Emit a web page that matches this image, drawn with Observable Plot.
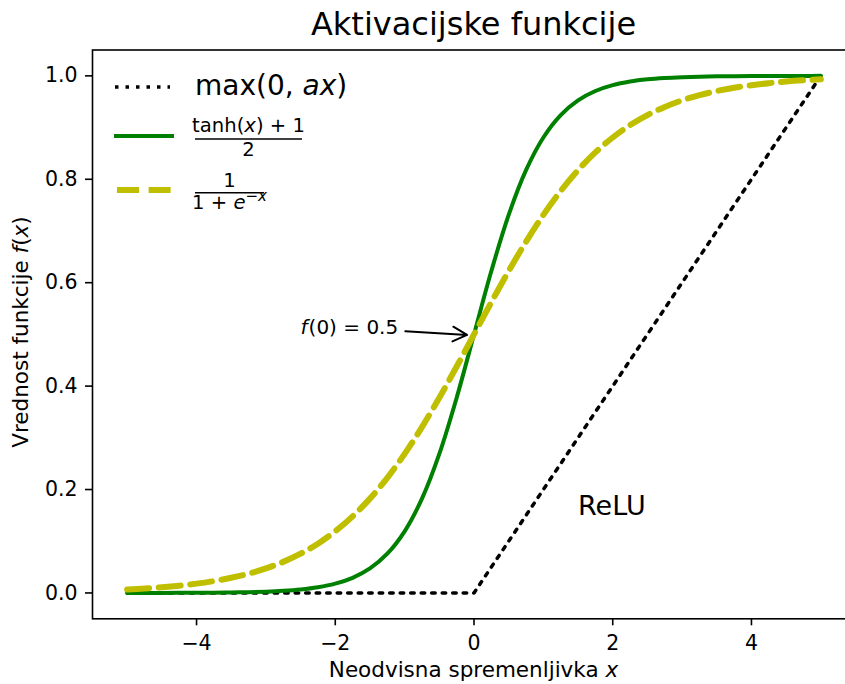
<!DOCTYPE html>
<html>
<head>
<meta charset="utf-8">
<script src="https://cdn.jsdelivr.net/npm/d3@7"></script>
<script src="https://cdn.jsdelivr.net/npm/@observablehq/plot@0.6"></script>
<style>
  html, body { margin: 0; padding: 0; background: white; overflow: hidden; }
  #wrap { position: relative; width: 845px; height: 684px; overflow: hidden; }
  #wrap svg { max-width: none; }
</style>
</head>
<body>
<div id="wrap"></div>
<script>
// ---- data ----
const xs = [-5, -4.75, -4.5, -4.25, -4, -3.75, -3.5, -3.25, -3, -2.75, -2.5, -2.25, -2, -1.75, -1.5, -1.25, -1, -0.75, -0.5, -0.25,
  0, 0.25, 0.5, 0.75, 1, 1.25, 1.5, 1.75, 2, 2.25, 2.5, 2.75, 3, 3.25, 3.5, 3.75, 4, 4.25, 4.5, 4.75, 5];
const tanhHalfValues = [0.0000, 0.0001, 0.0001, 0.0002, 0.0003, 0.0006, 0.0009, 0.0015, 0.0025, 0.0041, 0.0067, 0.0110, 0.0180, 0.0293, 0.0474, 0.0759, 0.1192, 0.1824, 0.2689, 0.3775,
  0.5000, 0.6225, 0.7311, 0.8176, 0.8808, 0.9241, 0.9526, 0.9707, 0.9820, 0.9890, 0.9933, 0.9959, 0.9975, 0.9985, 0.9991, 0.9994, 0.9997, 0.9998, 0.9999, 0.9999, 1.0000];
const sigmoidValues = [0.0067, 0.0086, 0.0110, 0.0141, 0.0180, 0.0230, 0.0293, 0.0373, 0.0474, 0.0601, 0.0759, 0.0953, 0.1192, 0.1480, 0.1824, 0.2227, 0.2689, 0.3208, 0.3775, 0.4378,
  0.5000, 0.5622, 0.6225, 0.6792, 0.7311, 0.7773, 0.8176, 0.8520, 0.8808, 0.9047, 0.9241, 0.9399, 0.9526, 0.9627, 0.9707, 0.9770, 0.9820, 0.9859, 0.9890, 0.9914, 0.9933];
const reluX = [-5, 0, 5];
const reluY = [0, 0, 1];
const xTicks = [-4, -2, 0, 2, 4];
const yTicks = [0, 0.2, 0.4, 0.6, 0.8, 1.0];
const annotPoint = [-2.5, 0.5];
const annotRest = "(0) = 0.5";
const arrowStart = [-0.99, 0.506];
const arrowEnd = [-0.1, 0.499];
const reluLabelPos = [1.5, 0.15];
const reluLabel = "ReLU";
const titleText = "Aktivacijske funkcije";

// ---- tables ----
const tanhData = xs.map((x, i) => ({x, y: tanhHalfValues[i]}));
const sigData = xs.map((x, i) => ({x, y: sigmoidValues[i]}));
const reluData = reluX.map((x, i) => ({x, y: reluY[i]}));

const GREEN = "#008000", YELLOW = "#bfbf00";

const chart = Plot.plot({
  width: 856, height: 684,
  marginLeft: 92, marginRight: 1, marginTop: 49.5, marginBottom: 65.7,
  x: {domain: [-5.5, 5.5]},
  y: {domain: [-0.05, 1.05]},
  style: {fontFamily: "DejaVu Sans", fontSize: "20px", background: "white", color: "black", overflow: "visible"},
  marks: [
    Plot.axisX({ticks: xTicks, tickSize: 7, tickPadding: 10, strokeWidth: 1.6, label: null, fontSize: 20.5}),
    Plot.axisY({ticks: yTicks, tickSize: 7, tickPadding: 8, strokeWidth: 1.6, label: null, fontSize: 20.5, tickFormat: d3.format(".1f")}),
    Plot.line(reluData, {x: "x", y: "y", stroke: "black", strokeWidth: 3.5, strokeDasharray: "3.5,7"}),
    Plot.line(tanhData, {x: "x", y: "y", stroke: GREEN, strokeWidth: 4, curve: "catmull-rom"}),
    Plot.line(sigData, {x: "x", y: "y", stroke: YELLOW, strokeWidth: 6, strokeDasharray: "22,9.6", curve: "catmull-rom"}),
    Plot.arrow([0], {x1: () => arrowStart[0], y1: () => arrowStart[1], x2: () => arrowEnd[0], y2: () => arrowEnd[1],
      stroke: "black", strokeWidth: 2, headLength: 12, headAngle: 55}),
    Plot.text([0], {x: () => annotPoint[0], y: () => annotPoint[1], text: () => "f", fontStyle: "italic",
      textAnchor: "start", fontSize: 20, dy: -6.4}),
    Plot.text([0], {x: () => annotPoint[0], y: () => annotPoint[1], text: () => annotRest,
      textAnchor: "start", fontSize: 20, dy: -6.4, dx: 8}),
    Plot.text([0], {x: () => reluLabelPos[0], y: () => reluLabelPos[1], text: () => reluLabel,
      textAnchor: "start", fontSize: 27, dy: -8.6}),
    Plot.frame({stroke: "black", strokeWidth: 1.6})
  ]
});

document.getElementById("wrap").appendChild(chart);
const svg = d3.select(chart);

// title
svg.append("text").attr("x", 473.5).attr("y", 35).attr("text-anchor", "middle")
  .attr("font-size", 32).attr("font-family", "DejaVu Sans").attr("fill", "black").text(titleText);

// x label
const xl = svg.append("text").attr("x", 473.5).attr("y", 677).attr("text-anchor", "middle")
  .attr("font-size", 21.5).attr("font-family", "DejaVu Sans").attr("fill", "black");
xl.append("tspan").text("Neodvisna spremenljivka ");
xl.append("tspan").attr("font-style", "italic").text("x");

// y label
const yl = svg.append("text").attr("transform", "translate(28,332) rotate(-90)").attr("text-anchor", "middle")
  .attr("font-size", 21.5).attr("font-family", "DejaVu Sans").attr("fill", "black");
yl.append("tspan").text("Vrednost funkcije ");
yl.append("tspan").attr("font-style", "italic").text("f");
yl.append("tspan").text("(");
yl.append("tspan").attr("font-style", "italic").text("x");
yl.append("tspan").text(")");

// legend
const g = svg.append("g").attr("font-family", "DejaVu Sans").attr("fill", "black");
g.append("line").attr("x1", 115).attr("x2", 170).attr("y1", 87).attr("y2", 87)
  .attr("stroke", "black").attr("stroke-width", 3.5).attr("stroke-dasharray", "3.5,7");
const t1 = g.append("text").attr("x", 195).attr("y", 95).attr("font-size", 28).attr("text-anchor", "start");
t1.append("tspan").text("max(0, ");
t1.append("tspan").attr("font-style", "italic").text("ax");
t1.append("tspan").text(")");

g.append("line").attr("x1", 114).attr("x2", 174).attr("y1", 136).attr("y2", 136)
  .attr("stroke", GREEN).attr("stroke-width", 4);
const n2 = g.append("text").attr("x", 248.5).attr("y", 131.7).attr("font-size", 19.6).attr("text-anchor", "middle");
n2.append("tspan").text("tanh(");
n2.append("tspan").attr("font-style", "italic").text("x");
n2.append("tspan").text(") + 1");
g.append("line").attr("x1", 195).attr("x2", 302).attr("y1", 139).attr("y2", 139).attr("stroke", "black").attr("stroke-width", 1.6);
g.append("text").attr("x", 248.5).attr("y", 156).attr("font-size", 19.6).attr("text-anchor", "middle").text("2");

g.append("line").attr("x1", 117).attr("x2", 172).attr("y1", 190).attr("y2", 190)
  .attr("stroke", YELLOW).attr("stroke-width", 6).attr("stroke-dasharray", "22,9.6");
g.append("text").attr("x", 229.5).attr("y", 186.7).attr("font-size", 19.6).attr("text-anchor", "middle").text("1");
g.append("line").attr("x1", 195).attr("x2", 264).attr("y1", 192.7).attr("y2", 192.7).attr("stroke", "black").attr("stroke-width", 1.6);
const d3t = g.append("text").attr("x", 229.5).attr("y", 209).attr("font-size", 19.6).attr("text-anchor", "middle");
d3t.append("tspan").text("1 + ");
d3t.append("tspan").attr("font-style", "italic").text("e");
d3t.append("tspan").attr("font-size", 15).attr("dy", -8).text("−");
d3t.append("tspan").attr("font-size", 15).attr("font-style", "italic").text("x");
</script>
</body>
</html>
